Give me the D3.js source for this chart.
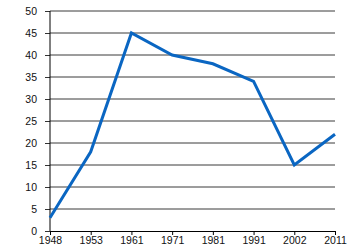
<!DOCTYPE html>
<html>
<head>
<meta charset="utf-8">
<script src="https://cdn.jsdelivr.net/npm/d3@7"></script>
<style>
  body { margin: 0; background: #fff; }
  text { font-family: "Liberation Sans", Arial, sans-serif; font-size: 10.5px; fill: #111; }
</style>
</head>
<body>
<svg id="chart"></svg>
<script>
const years = ["1948", "1953", "1961", "1971", "1981", "1991", "2002", "2011"];
const values = [3, 18, 45, 40, 38, 34, 15, 22];
const yTicks = [0, 5, 10, 15, 20, 25, 30, 35, 40, 45, 50];

const W = 350, H = 250;
var margin = {top: 11, right: 15, bottom: 19, left: 50},
    width = W - margin.left - margin.right,
    height = H - margin.top - margin.bottom;

var svg = d3.select("#chart")
  .attr("width", W)
  .attr("height", H)
  .append("g")
  .attr("transform", "translate(" + margin.left + "," + margin.top + ")");

var x = d3.scalePoint().domain(years).range([0, width]);
var y = d3.scaleLinear().domain([0, 50]).range([height, 0]);

// grid + y axis
var yAxis = svg.append("g")
  .call(d3.axisLeft(y).tickValues(yTicks).tickSize(5).tickPadding(8));
yAxis.select(".domain").remove();
yAxis.selectAll("line").attr("stroke", "#333");

svg.append("g")
  .selectAll("line")
  .data(yTicks.slice(1))
  .enter()
  .append("line")
    .attr("x1", 0).attr("x2", width)
    .attr("y1", d => y(d)).attr("y2", d => y(d))
    .attr("stroke", "#3a3a3a")
    .attr("stroke-width", 1);

svg.append("line")
  .attr("x1", 0).attr("x2", 0).attr("y1", 0).attr("y2", height)
  .attr("stroke", "#000");

// x axis
var xAxis = svg.append("g")
  .attr("transform", "translate(0," + height + ")")
  .call(d3.axisBottom(x).tickSize(4).tickPadding(2).tickSizeOuter(0));
xAxis.selectAll("line, .domain").attr("stroke", "#000");

// the line
svg.append("path")
  .datum(values)
  .attr("fill", "none")
  .attr("stroke", "#0a66c2")
  .attr("stroke-width", 3)
  .attr("stroke-linejoin", "miter")
  .attr("d", d3.line()
    .x((d, i) => x(years[i]))
    .y(d => y(d)));
</script>
</body>
</html>
